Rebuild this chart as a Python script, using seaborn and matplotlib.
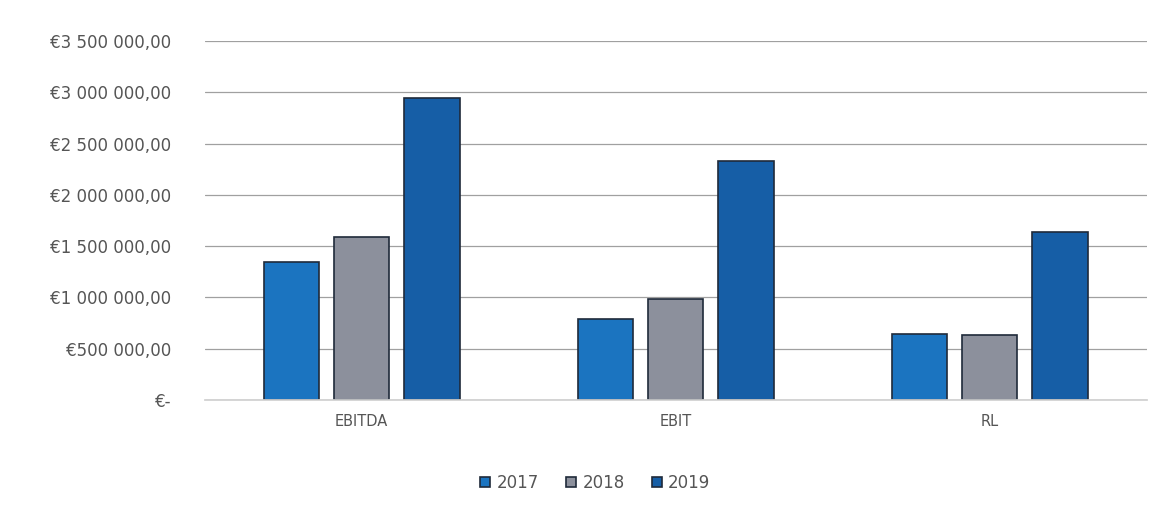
import matplotlib
matplotlib.use("Agg")
import matplotlib.pyplot as plt
from matplotlib.ticker import FuncFormatter, MultipleLocator
import seaborn as sns
import pandas as pd

categories = ["EBITDA", "EBIT", "RL"]
years = ["2017", "2018", "2019"]
values_2017 = [1340000, 790000, 640000]
values_2018 = [1585000, 985000, 630000]
values_2019 = [2940000, 2330000, 1640000]
colors = ["#1b74c0", "#8c909c", "#165ea6"]

rows = []
for yr, vals in zip(years, [values_2017, values_2018, values_2019]):
    for c, v in zip(categories, vals):
        rows.append({"cat": c, "year": yr, "value": v})
df = pd.DataFrame(rows)

sns.set_theme(style="white")
plt.rcParams['font.family'] = ['DejaVu Sans']

fig = plt.figure(figsize=(11.63, 5.12), dpi=100)
ax = fig.add_axes([0.176, 0.219, 0.81, 0.701])

sns.barplot(data=df, x="cat", y="value", hue="year", order=categories, hue_order=years,
            palette=colors, width=0.67, gap=0.21, edgecolor="#1f2a3a", linewidth=1.2,
            saturation=1, ax=ax, legend=True)

ax.set_xlim(-0.5, 2.5)
ax.set_ylim(0, 3500000)
ax.yaxis.set_major_locator(MultipleLocator(500000))

def fmt(v, pos):
    if abs(v) < 1:
        return "€-"
    s = f"{int(round(v)):,}".replace(",", " ")
    return f"€{s},00"

ax.yaxis.set_major_formatter(FuncFormatter(fmt))
ax.grid(axis="y", color="#a0a0a0", linewidth=0.9)
ax.set_axisbelow(True)
for s in ["top", "right", "left"]:
    ax.spines[s].set_visible(False)
ax.spines["bottom"].set_color("#d0d0d0")
ax.tick_params(axis="y", length=0, pad=24, labelsize=12, labelcolor="#555555")
ax.tick_params(axis="x", length=0, pad=10, labelsize=10.5, labelcolor="#555555")
ax.set_xlabel("")
ax.set_ylabel("")

h, l = ax.get_legend_handles_labels()
ax.legend_.remove()
fig.legend(h, l, loc="center", bbox_to_anchor=(0.512, 0.057), ncol=3, frameon=False,
           fontsize=12, handlelength=0.6, handleheight=0.6, handletextpad=0.4,
           columnspacing=1.6, labelcolor="#555555")

fig.savefig("out.png", dpi=100, facecolor="white")
